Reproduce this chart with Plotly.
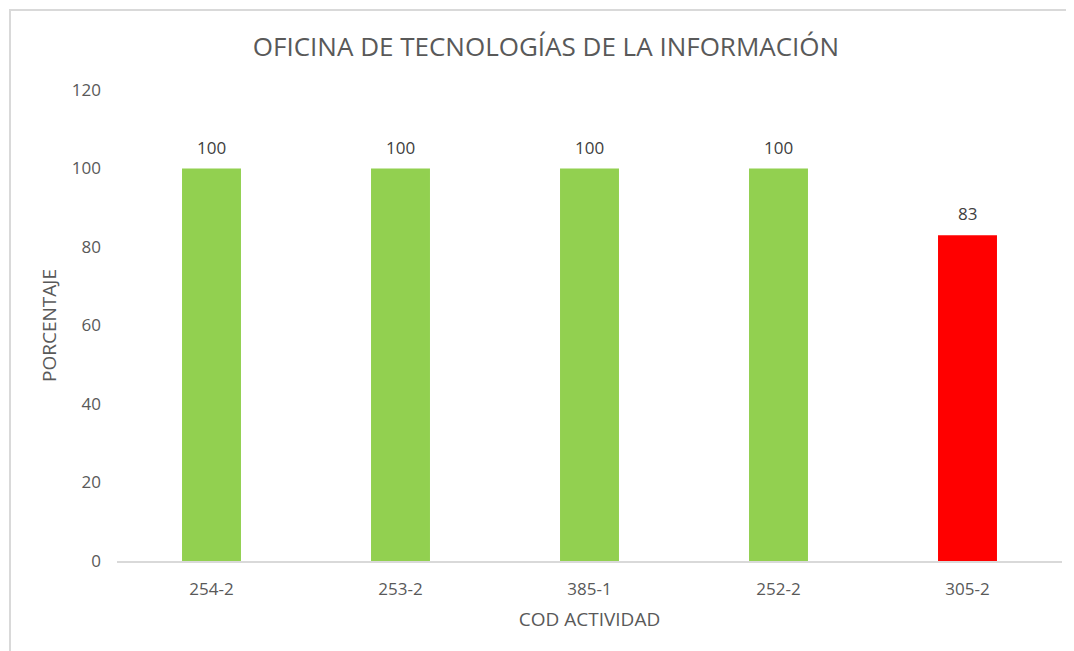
import plotly.graph_objects as go

categories = ["254-2", "253-2", "385-1", "252-2", "305-2"]
values = [100, 100, 100, 100, 83]
bar_colors = ["#92D050", "#92D050", "#92D050", "#92D050", "#FF0000"]
y_ticks = [0, 20, 40, 60, 80, 100, 120]

# page body has an 8px margin; work in figure coordinates (reference - 8)
OFF = 8
W, H = 1074 - OFF, 651 - OFF
L, R, T, B = 117 - OFF, 12, 90 - OFF, 90
pw, ph = W - L - R, H - T - B

def px_x(x):
    return (x - OFF - L) / pw

def px_y(y):
    return (H - B - (y - OFF)) / ph

font_family = "Open Sans, Liberation Sans, sans-serif"
gray = "#595959"

fig = go.Figure(go.Bar(
    x=categories, y=values,
    marker=dict(color=bar_colors, line=dict(width=0)),
    hoverinfo="x+y",
))

for c, v in zip(categories, values):
    fig.add_annotation(x=c, y=v, text=str(v), showarrow=False,
                       yanchor="bottom", yshift=8,
                       font=dict(size=17, color="#404040", family=font_family))

fig.update_layout(
    width=W, height=H,
    margin=dict(l=L, r=R, t=T, b=B, autoexpand=False),
    paper_bgcolor="white", plot_bgcolor="white",
    bargap=0.688,
    showlegend=False,
    title=dict(text="OFICINA DE TECNOLOGÍAS DE LA INFORMACIÓN",
               x=(546 - OFF) / W, xref="container", xanchor="center",
               y=1 - (47 - OFF) / H, yanchor="middle",
               font=dict(size=26, color=gray, family=font_family)),
    font=dict(family=font_family, color=gray),
    xaxis=dict(showline=True, linecolor="#d9d9d9", linewidth=2,
               ticks="", tickfont=dict(size=17, color=gray),
               ticklabelstandoff=12,
               title=dict(text="COD ACTIVIDAD", font=dict(size=19, color=gray), standoff=13),
               showgrid=False),
    yaxis=dict(range=[0, 120], tickvals=y_ticks, showgrid=False, zeroline=False,
               showline=False, ticks="", ticklen=0,
               ticklabelstandoff=15,
               tickfont=dict(size=17, color=gray),
               title=dict(text="PORCENTAJE", font=dict(size=19, color=gray), standoff=10)),
    shapes=[dict(type="rect", xref="paper", yref="paper",
                 x0=px_x(10), x1=px_x(1300), y0=px_y(900), y1=px_y(10),
                 line=dict(color="#d9d9d9", width=2), fillcolor="rgba(0,0,0,0)",
                 layer="below")],
)

fig.write_html("out.html")
